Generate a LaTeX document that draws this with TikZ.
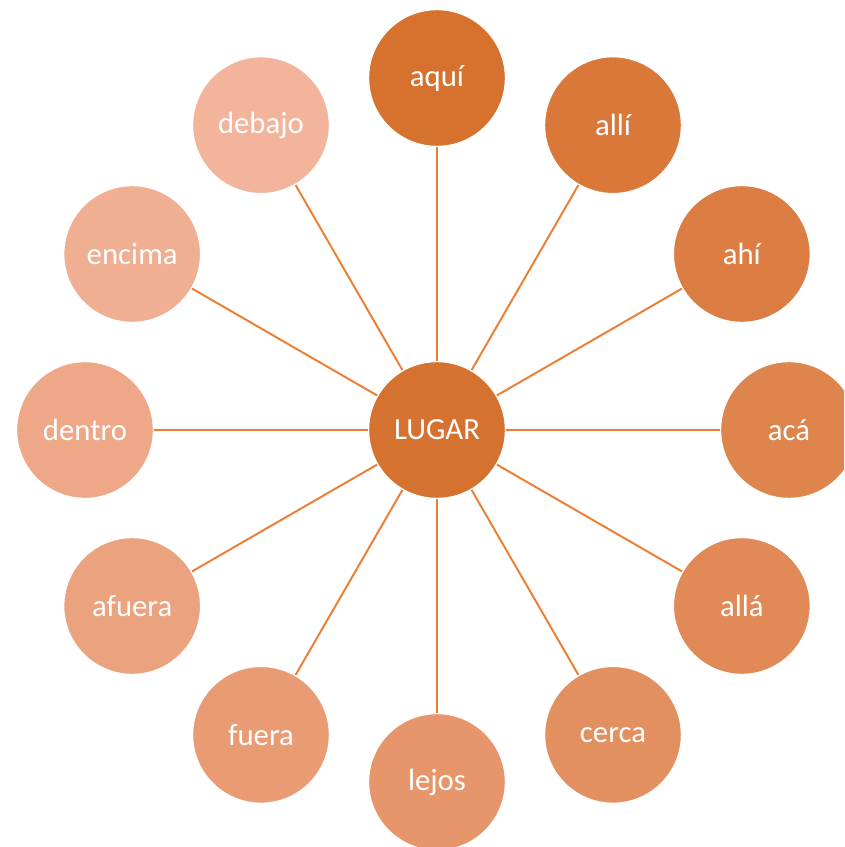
\documentclass[tikz,border=0pt]{standalone}
\usepackage{fontspec}
\setmainfont{Carlito}
\definecolor{hubcol}{HTML}{D6722F}
\definecolor{darkcol}{HTML}{D6712E}
\definecolor{lightcol}{HTML}{F3B49C}
\definecolor{spokecol}{HTML}{ED7D31}

\begin{document}
\begin{tikzpicture}[
  ring/.style={circle,draw=white,line width=0.8pt,minimum size=2.74cm,inner sep=0pt,text=white,font=\fontsize{17.5}{21}\selectfont},
  spoke/.style={draw=spokecol,line width=1.1pt}]
\useasboundingbox (-8.74,-8.34) rectangle (8.14,8.6);
\clip (-8.74,-8.34) rectangle (8.14,8.6);
\node[ring,fill=hubcol] (lugar) at (0,0) {LUGAR};
\foreach \w [count=\i from 0] in {aquí,allí,ahí,acá,allá,cerca,lejos,fuera,afuera,dentro,encima,debajo}{
  \pgfmathtruncatemacro\p{100-100*\i/11}
  \node[ring,fill=darkcol!\p!lightcol] (w\i) at ({90-30*\i}:7.04) {\w};
  \draw[spoke] (lugar) -- (w\i);
}
\end{tikzpicture}
\end{document}
